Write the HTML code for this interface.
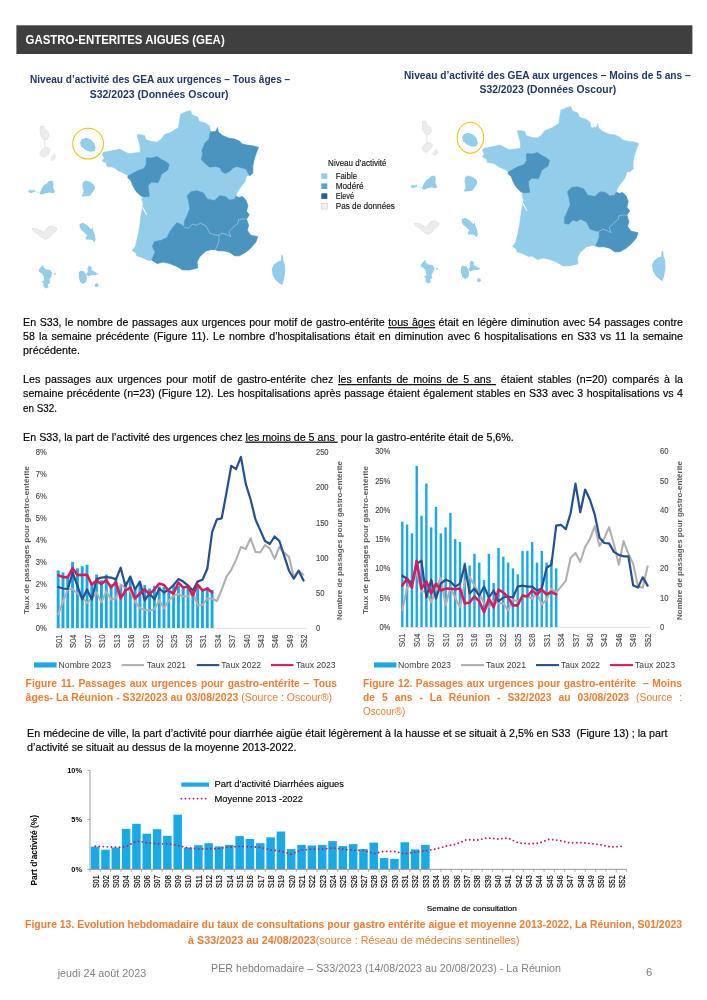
<!DOCTYPE html>
<html lang="fr">
<head>
<meta charset="utf-8">
<title>GASTRO-ENTERITES AIGUES (GEA)</title>
<style>
html,body{margin:0;padding:0;background:#fff;}
body{width:707px;height:1000px;overflow:hidden;}
svg{display:block;font-family:"Liberation Sans",sans-serif;}
</style>
</head>
<body>
<svg width="707" height="1000" viewBox="0 0 707 1000">
<rect x="0" y="0" width="707" height="1000" fill="#ffffff"/>
<rect x="16.4" y="25.3" width="676" height="28.7" fill="#3f3f3f"/>
<text x="25.50" y="44.00" font-size="13.0" fill="#ffffff" font-weight="bold" textLength="199.20" lengthAdjust="spacingAndGlyphs">GASTRO-ENTERITES AIGUES (GEA)</text>
<text x="30.00" y="83.40" font-size="10.7" fill="#1f3864" font-weight="bold" textLength="260.20" lengthAdjust="spacingAndGlyphs">Niveau d’activité des GEA aux urgences – Tous âges –</text>
<text x="89.70" y="98.20" font-size="10.7" fill="#1f3864" font-weight="bold" textLength="138.90" lengthAdjust="spacingAndGlyphs">S32/2023 (Données Oscour)</text>
<text x="404.00" y="78.70" font-size="10.7" fill="#1f3864" font-weight="bold" textLength="286.70" lengthAdjust="spacingAndGlyphs">Niveau d’activité des GEA aux urgences – Moins de 5 ans –</text>
<text x="479.60" y="93.20" font-size="10.7" fill="#1f3864" font-weight="bold" textLength="136.50" lengthAdjust="spacingAndGlyphs">S32/2023 (Données Oscour)</text>
<text transform="translate(23.10,326.20) scale(1.055,1)" font-size="10.1" fill="#000000" stroke="#000000" stroke-width="0.16" xml:space="preserve" word-spacing="0.536" textLength="625.50" lengthAdjust="spacing">En S33, le nombre de passages aux urgences pour motif de gastro-entérite <tspan text-decoration="underline">tous âges</tspan> était en légère diminution avec 54 passages contre</text>
<text transform="translate(23.10,340.30) scale(1.055,1)" font-size="10.1" fill="#000000" stroke="#000000" stroke-width="0.16" xml:space="preserve" word-spacing="1.115" textLength="625.50" lengthAdjust="spacing">58 la semaine précédente (Figure 11). Le nombre d’hospitalisations était en diminution avec 6 hospitalisations en S33 vs 11 la semaine</text>
<text transform="translate(23.10,354.30) scale(1.0685,1)" font-size="10.1" fill="#000000" stroke="#000000" stroke-width="0.16" xml:space="preserve" textLength="53.35" lengthAdjust="spacing">précédente.</text>
<text transform="translate(23.10,383.10) scale(1.055,1)" font-size="10.1" fill="#000000" stroke="#000000" stroke-width="0.16" xml:space="preserve" word-spacing="1.801" textLength="625.50" lengthAdjust="spacing">Les passages aux urgences pour motif de gastro-entérite chez <tspan text-decoration="underline">les enfants de moins de 5 ans </tspan> étaient stables (n=20) comparés à la</text>
<text transform="translate(23.10,397.20) scale(1.055,1)" font-size="10.1" fill="#000000" stroke="#000000" stroke-width="0.16" xml:space="preserve" word-spacing="0.454" textLength="625.50" lengthAdjust="spacing">semaine précédente (n=23) (Figure 12). Les hospitalisations après passage étaient également stables en S33 avec 3 hospitalisations vs 4</text>
<text transform="translate(23.10,411.50) scale(0.9736,1)" font-size="10.1" fill="#000000" stroke="#000000" stroke-width="0.16" xml:space="preserve" textLength="34.82" lengthAdjust="spacing">en S32.</text>
<text transform="translate(23.10,440.80) scale(1.0594,1)" font-size="10.1" fill="#000000" stroke="#000000" stroke-width="0.16" xml:space="preserve" textLength="463.19" lengthAdjust="spacing">En S33, la part de l’activité des urgences chez <tspan text-decoration="underline">les moins de 5 ans </tspan> pour la gastro-entérite était de 5,6%.</text>
<text transform="translate(25.60,686.80) scale(1.02,1)" font-size="10.1" fill="#ed7d31" stroke="#ed7d31" stroke-width="0.0" font-weight="bold" xml:space="preserve" word-spacing="0.928" textLength="305.29" lengthAdjust="spacing">Figure 11. Passages aux urgences pour gastro-entérite – Tous</text>
<text transform="translate(25.60,700.60) scale(1.0411,1)" font-size="10.1" fill="#ed7d31" stroke="#ed7d31" stroke-width="0.0" font-weight="bold" xml:space="preserve" textLength="294.30" lengthAdjust="spacing">âges- La Réunion - S32/2023 au 03/08/2023 <tspan font-weight="normal">(Source : Oscour®)</tspan></text>
<text transform="translate(363.00,686.80) scale(1.02,1)" font-size="10.1" fill="#ed7d31" stroke="#ed7d31" stroke-width="0.0" font-weight="bold" xml:space="preserve" word-spacing="0.635" textLength="312.75" lengthAdjust="spacing">Figure 12. Passages aux urgences pour gastro-entérite  – Moins</text>
<text transform="translate(363.00,700.60) scale(1.02,1)" font-size="10.1" fill="#ed7d31" stroke="#ed7d31" stroke-width="0.0" font-weight="bold" xml:space="preserve" word-spacing="4.037" textLength="312.75" lengthAdjust="spacing">de 5 ans - La Réunion - S32/2023 au 03/08/2023 <tspan font-weight="normal">(Source :</tspan></text>
<text transform="translate(363.00,715.00) scale(0.9779,1)" font-size="10.1" fill="#ed7d31" stroke="#ed7d31" stroke-width="0.0" xml:space="preserve" textLength="43.36" lengthAdjust="spacing">Oscour®)</text>
<text transform="translate(27.10,737.00) scale(1.0611,1)" font-size="10.1" fill="#000000" stroke="#000000" stroke-width="0.16" xml:space="preserve" textLength="603.55" lengthAdjust="spacing">En médecine de ville, la part d’activité pour diarrhée aigüe était légèrement à la hausse et se situait à 2,5% en S33  (Figure 13) ; la part</text>
<text transform="translate(27.10,751.00) scale(1.0611,1)" font-size="10.1" fill="#000000" stroke="#000000" stroke-width="0.16" xml:space="preserve" textLength="253.79" lengthAdjust="spacing">d’activité se situait au dessus de la moyenne 2013-2022.</text>
<text transform="translate(25.10,927.80) scale(1.0312,1)" font-size="10.1" fill="#ed7d31" stroke="#ed7d31" stroke-width="0.0" font-weight="bold" xml:space="preserve" textLength="637.04" lengthAdjust="spacing">Figure 13. Evolution hebdomadaire du taux de consultations pour gastro entérite aigue et moyenne 2013-2022, La Réunion, S01/2023</text>
<text transform="translate(188.00,943.60) scale(1.0676,1)" font-size="10.1" fill="#ed7d31" stroke="#ed7d31" stroke-width="0.0" font-weight="bold" xml:space="preserve" textLength="310.50" lengthAdjust="spacing">à S33/2023 au 24/08/2023<tspan font-weight="normal">(source : Réseau de médecins sentinelles)</tspan></text>
<text transform="translate(57.70,976.70) scale(1.0242,1)" font-size="10.5" fill="#7f7f7f" stroke="#7f7f7f" stroke-width="0.0" xml:space="preserve" textLength="86.41" lengthAdjust="spacing">jeudi 24 août 2023</text>
<text transform="translate(211.10,972.40) scale(1.0176,1)" font-size="10.5" fill="#7f7f7f" stroke="#7f7f7f" stroke-width="0.0" xml:space="preserve" textLength="343.85" lengthAdjust="spacing">PER hebdomadaire – S33/2023 (14/08/2023 au 20/08/2023) - La Réunion</text>
<text transform="translate(645.90,976.00) scale(1.0488,1)" font-size="10.8" fill="#7f7f7f" stroke="#7f7f7f" stroke-width="0.0" xml:space="preserve" textLength="6.01" lengthAdjust="spacing">6</text>
<g transform="translate(0,0)">
<polygon points="190.6,110.7 192.0,114.9 197.7,117.0 199.1,121.3 206.2,123.4 209.7,126.2 210.4,131.2 211.8,131.9 216.1,131.2 217.5,127.6 218.2,131.9 222.4,135.4 228.8,138.2 234.5,138.9 239.4,141.1 242.2,143.9 247.9,145.3 253.6,146.0 258.5,147.4 256.4,152.4 254.3,158.7 252.8,165.8 252.8,172.9 250.0,175.7 246.5,175.7 245.1,181.4 240.8,187.0 237.3,192.0 235.9,196.2 239.0,197.5 242.2,196.4 245.8,199.9 247.9,205.6 246.5,211.2 249.3,214.8 246.5,219.0 248.6,225.4 247.2,230.3 250.7,235.3 257.8,236.7 255.7,242.3 250.7,248.0 245.8,252.2 239.4,255.8 234.5,255.8 229.5,252.2 223.8,250.8 218.2,250.8 212.5,249.4 206.2,250.8 199.8,256.5 197.0,262.1 197.7,267.8 189.9,269.9 182.7,269.9 177.0,266.4 170.0,263.6 162.9,262.1 157.2,263.6 151.6,260.0 148.7,260.7 143.1,257.9 136.7,255.8 136.0,252.9 132.1,250.5 135.3,246.6 137.4,238.1 139.6,226.8 141.0,215.5 142.4,208.4 143.1,204.1 141.7,198.5 143.1,198.4 140.3,195.5 136.0,191.3 132.5,184.9 131.1,180.7 127.8,177.8 128.2,175.7 123.3,172.9 118.3,170.8 113.4,167.2 107.0,166.5 106.3,163.0 102.1,160.9 104.2,158.0 102.1,154.5 103.5,152.4 110.6,151.0 116.2,150.0 119.8,149.1 123.3,151.0 128.9,153.8 136.0,152.8 140.3,152.4 140.0,146.0 138.1,138.9 137.1,134.7 141.0,134.7 144.5,135.4 145.9,139.7 151.6,141.5 157.2,142.1 161.5,138.9 164.3,134.7 171.4,131.9 178.5,127.6 179.6,120.6 180.6,114.2 186.9,111.4" fill="#92cde9" stroke="#92cde9" stroke-width="0.6" stroke-linejoin="round"/>
<polygon points="281.9,254.9 282.9,255.2 283.4,260.6 284.8,264.6 285.2,272.3 284.0,279.0 282.3,285.0 279.7,283.7 275.5,279.9 272.5,274.8 271.9,268.9 273.8,264.6 278.0,261.6 281.0,260.4 281.2,256.1" fill="#92cde9"/>
<polygon points="210.4,131.2 211.8,131.9 216.1,131.2 217.5,127.6 218.2,131.9 222.4,135.4 228.8,138.2 234.5,138.9 239.4,141.1 242.2,143.9 247.9,145.3 253.6,146.0 258.5,147.4 256.4,152.4 254.3,158.7 252.8,165.8 252.8,172.9 250.0,175.7 247.9,172.9 246.5,169.4 242.2,167.9 236.6,166.5 233.0,167.9 229.5,171.5 225.3,173.6 221.7,171.5 220.3,167.9 216.1,166.5 209.7,167.2 206.2,164.4 201.2,159.5 202.6,154.5 201.9,150.3 204.8,143.2 209.0,138.9" fill="#4a94c0" stroke="#4a94c0" stroke-width="0.5" stroke-linejoin="round"/>
<polygon points="146.2,158.7 146.6,157.6 151.6,158.0 157.2,156.6 161.5,159.5 165.7,161.6 169.3,164.4 167.8,170.1 164.3,172.2 161.5,174.3 159.4,180.0 157.9,182.8 151.6,182.1 148.0,185.6 148.7,191.3 149.5,196.2 144.5,196.9 140.3,195.5 136.0,191.3 132.5,184.9 131.1,180.7 127.8,177.8 128.2,175.7 131.1,174.3 137.4,170.8 143.8,168.6 146.2,164.4" fill="#4a94c0" stroke="#4a94c0" stroke-width="0.5" stroke-linejoin="round"/>
<polygon points="187.1,195.7 191.3,191.4 197.0,190.7 203.3,192.8 207.6,199.2 214.7,200.6 219.6,195.7 225.3,196.4 229.5,199.9 234.5,199.2 235.9,196.2 239.0,197.5 242.2,196.4 245.8,199.9 247.9,205.6 246.5,211.2 249.3,214.8 246.5,219.0 242.9,219.0 238.7,219.7 238.0,223.2 233.0,227.5 228.8,231.7 230.9,236.7 228.1,235.3 222.4,233.1 218.9,235.3 215.4,235.0 209.7,233.1 206.2,226.1 200.5,223.2 196.3,225.4 192.7,223.9 188.5,228.2 184.2,227.5 184.2,221.8 187.1,215.5 189.9,208.4 188.5,201.3" fill="#4a94c0" stroke="#4a94c0" stroke-width="0.5" stroke-linejoin="round"/>
<polygon points="246.5,219.0 248.6,225.4 247.2,230.3 250.7,235.3 257.8,236.7 255.7,242.3 250.7,248.0 245.8,252.2 239.4,255.8 234.5,255.8 229.5,252.2 223.8,250.8 218.2,250.8 215.4,249.4 217.5,245.2 218.9,240.9 218.9,235.3 222.4,233.1 228.1,235.3 230.9,236.7 228.8,231.7 233.0,227.5 238.0,223.2 238.7,219.7 242.9,219.0" fill="#4a94c0" stroke="#4a94c0" stroke-width="0.5" stroke-linejoin="round"/>
<polygon points="184.2,227.5 188.5,228.2 192.7,223.9 196.3,225.4 200.5,223.2 206.2,226.1 209.7,233.1 215.4,235.0 218.9,235.3 218.9,240.9 217.5,245.2 215.4,249.4 212.5,249.4 206.2,250.8 199.8,256.5 197.0,262.1 197.7,267.8 189.9,269.9 182.7,269.9 177.0,266.4 170.0,263.6 162.9,262.1 157.2,263.6 151.6,260.0 155.1,252.2 152.3,246.6 154.4,241.6 161.5,240.2 167.1,237.4 169.3,232.4 172.8,227.5 177.0,222.5 182.7,225.4" fill="#4a94c0" stroke="#4a94c0" stroke-width="0.5" stroke-linejoin="round"/>
<polygon points="141.8,207.0 143.4,207.4 147.2,214.9 146.4,215.2" fill="#ffffff"/>
</g>
<g transform="translate(0,0)">
<polygon points="80.0,142.4 81.6,139.2 86.1,137.7 91.2,139.8 94.4,143.6 95.6,148.1 94.4,151.3 89.9,151.7 84.8,149.4 81.0,146.2" fill="#92cde9"/>
<polygon points="28.2,191.4 30.1,189.5 32.0,190.7 34.5,189.8 35.2,191.4 32.6,192.6 30.7,193.3" fill="#92cde9"/>
<polygon points="39.6,193.9 41.5,188.8 44.1,185.0 47.3,183.1 48.5,181.2 52.4,180.6 53.6,183.7 53.0,187.6 54.9,191.4 53.6,193.3 49.2,192.6 45.4,193.3 42.2,194.6" fill="#92cde9"/>
<polygon points="81.6,196.5 83.6,191.4 82.3,186.3 82.9,182.5 85.5,180.6 89.9,181.8 94.4,185.0 95.0,188.2 92.5,192.6 89.9,195.8 84.8,196.5" fill="#92cde9"/>
<polygon points="79.7,224.1 82.9,222.8 87.4,225.4 91.2,229.2 92.5,227.3 93.1,230.5 95.0,234.9 95.6,239.4 94.4,242.6 92.5,240.0 88.6,239.4 86.1,239.6 85.5,237.5 87.4,235.5 84.2,232.4 81.0,229.8 79.5,226.6" fill="#92cde9"/>
<polygon points="38.6,270.1 40.5,267.6 43.1,264.4 43.7,267.6 46.2,269.5 50.1,270.1 52.2,272.7 51.3,276.5 49.4,279.7 50.1,282.8 47.5,284.8 48.8,287.3 45.6,288.6 43.1,286.0 43.7,283.5 41.8,281.6 44.3,280.3 43.7,276.5 41.8,273.3 39.2,272.0" fill="#92cde9"/>
<polygon points="78.8,272.3 80.8,270.6 83.8,271.2 86.1,274.4 87.0,278.8 85.7,282.6 82.5,284.0 80.0,281.8 78.8,277.4" fill="#92cde9"/>
<polygon points="86.1,274.4 87.8,271.8 87.4,268.0 89.2,265.5 91.6,267.2 91.6,270.2 94.3,271.4 98.6,273.9 95.2,275.0 91.2,275.3 87.8,276.3" fill="#92cde9"/>
<circle cx="96.7" cy="285.2" r="1.9" fill="#92cde9"/>
<rect x="54.3" y="272.7" width="1.2" height="2.3" fill="#92cde9"/>
<line x1="35.2" y1="191.6" x2="39.8" y2="192.6" stroke="#c9c9c9" stroke-width="0.5"/>
<polygon points="40.3,126.5 43.5,125.8 44.1,128.4 48.5,132.8 49.2,136.0 47.3,139.2 44.1,139.8 42.2,137.9 40.3,134.1 40.0,130.3" fill="#ececec" stroke="#cfcfcf" stroke-width="0.4"/>
<polygon points="44.7,147.5 48.5,147.8 50.5,150.0 48.5,153.8 44.1,157.6 40.9,155.7 39.6,153.2 42.2,150.0" fill="#ececec" stroke="#cfcfcf" stroke-width="0.4"/>
<polygon points="50.5,158.9 53.6,154.5 55.5,155.7 54.9,158.9 52.4,160.8" fill="#ececec" stroke="#cfcfcf" stroke-width="0.4"/>
<polygon points="32.0,228.5 36.5,228.5 41.5,231.1 44.1,232.4 48.5,226.6 52.4,226.0 56.8,227.9 56.2,231.1 52.4,233.6 50.5,236.8 45.4,239.4 40.9,236.8 37.7,233.6 33.3,231.1" fill="#ececec" stroke="#cfcfcf" stroke-width="0.4"/>
<line x1="44.3" y1="139.8" x2="44.9" y2="147.5" stroke="#cfcfcf" stroke-width="0.5"/>
</g>
<circle cx="88.1" cy="143.6" r="15.4" fill="none" stroke="#f2c21b" stroke-width="1.1"/>
<polyline points="184.2,227.5 188.5,228.2 192.7,223.9 196.3,225.4 200.5,223.2 206.2,226.1 209.7,233.1 215.4,235.0 218.9,235.3" fill="none" stroke="#cfe6f3" stroke-width="0.45"/>
<polyline points="218.9,235.3 222.4,233.1 228.1,235.3 230.9,236.7 228.8,231.7 233.0,227.5 238.0,223.2 238.7,219.7 242.9,219.0 246.5,219.0" fill="none" stroke="#cfe6f3" stroke-width="0.45"/>
<polyline points="218.9,235.3 218.9,240.9 217.5,245.2 215.4,249.4" fill="none" stroke="#cfe6f3" stroke-width="0.45"/>
<g transform="translate(380.3,-4)">
<polygon points="190.6,110.7 192.0,114.9 197.7,117.0 199.1,121.3 206.2,123.4 209.7,126.2 210.4,131.2 211.8,131.9 216.1,131.2 217.5,127.6 218.2,131.9 222.4,135.4 228.8,138.2 234.5,138.9 239.4,141.1 242.2,143.9 247.9,145.3 253.6,146.0 258.5,147.4 256.4,152.4 254.3,158.7 252.8,165.8 252.8,172.9 250.0,175.7 246.5,175.7 245.1,181.4 240.8,187.0 237.3,192.0 235.9,196.2 239.0,197.5 242.2,196.4 245.8,199.9 247.9,205.6 246.5,211.2 249.3,214.8 246.5,219.0 248.6,225.4 247.2,230.3 250.7,235.3 257.8,236.7 255.7,242.3 250.7,248.0 245.8,252.2 239.4,255.8 234.5,255.8 229.5,252.2 223.8,250.8 218.2,250.8 212.5,249.4 206.2,250.8 199.8,256.5 197.0,262.1 197.7,267.8 189.9,269.9 182.7,269.9 177.0,266.4 170.0,263.6 162.9,262.1 157.2,263.6 151.6,260.0 148.7,260.7 143.1,257.9 136.7,255.8 136.0,252.9 132.1,250.5 135.3,246.6 137.4,238.1 139.6,226.8 141.0,215.5 142.4,208.4 143.1,204.1 141.7,198.5 143.1,198.4 140.3,195.5 136.0,191.3 132.5,184.9 131.1,180.7 127.8,177.8 128.2,175.7 123.3,172.9 118.3,170.8 113.4,167.2 107.0,166.5 106.3,163.0 102.1,160.9 104.2,158.0 102.1,154.5 103.5,152.4 110.6,151.0 116.2,150.0 119.8,149.1 123.3,151.0 128.9,153.8 136.0,152.8 140.3,152.4 140.0,146.0 138.1,138.9 137.1,134.7 141.0,134.7 144.5,135.4 145.9,139.7 151.6,141.5 157.2,142.1 161.5,138.9 164.3,134.7 171.4,131.9 178.5,127.6 179.6,120.6 180.6,114.2 186.9,111.4" fill="#92cde9" stroke="#92cde9" stroke-width="0.6" stroke-linejoin="round"/>
<polygon points="281.9,254.9 282.9,255.2 283.4,260.6 284.8,264.6 285.2,272.3 284.0,279.0 282.3,285.0 279.7,283.7 275.5,279.9 272.5,274.8 271.9,268.9 273.8,264.6 278.0,261.6 281.0,260.4 281.2,256.1" fill="#92cde9"/>
<polygon points="146.2,158.7 146.6,157.6 151.6,158.0 157.2,156.6 161.5,159.5 165.7,161.6 169.3,164.4 167.8,170.1 164.3,172.2 161.5,174.3 159.4,180.0 157.9,182.8 151.6,182.1 148.0,185.6 148.7,191.3 149.5,196.2 144.5,196.9 140.3,195.5 136.0,191.3 132.5,184.9 131.1,180.7 127.8,177.8 128.2,175.7 131.1,174.3 137.4,170.8 143.8,168.6 146.2,164.4" fill="#4a94c0" stroke="#4a94c0" stroke-width="0.5" stroke-linejoin="round"/>
<polygon points="187.1,195.7 191.3,191.4 197.0,190.7 203.3,192.8 207.6,199.2 214.7,200.6 219.6,195.7 225.3,196.4 229.5,199.9 234.5,199.2 235.9,196.2 239.0,197.5 242.2,196.4 245.8,199.9 247.9,205.6 246.5,211.2 249.3,214.8 246.5,219.0 242.9,219.0 238.7,219.7 238.0,223.2 233.0,227.5 228.8,231.7 230.9,236.7 228.1,235.3 222.4,233.1 218.9,235.3 215.4,235.0 209.7,233.1 206.2,226.1 200.5,223.2 196.3,225.4 192.7,223.9 188.5,228.2 184.2,227.5 184.2,221.8 187.1,215.5 189.9,208.4 188.5,201.3" fill="#4a94c0" stroke="#4a94c0" stroke-width="0.5" stroke-linejoin="round"/>
<polygon points="246.5,219.0 248.6,225.4 247.2,230.3 250.7,235.3 257.8,236.7 255.7,242.3 250.7,248.0 245.8,252.2 239.4,255.8 234.5,255.8 229.5,252.2 223.8,250.8 218.2,250.8 215.4,249.4 217.5,245.2 218.9,240.9 218.9,235.3 222.4,233.1 228.1,235.3 230.9,236.7 228.8,231.7 233.0,227.5 238.0,223.2 238.7,219.7 242.9,219.0" fill="#4a94c0" stroke="#4a94c0" stroke-width="0.5" stroke-linejoin="round"/>
<polygon points="141.8,207.0 143.4,207.4 147.2,214.9 146.4,215.2" fill="#ffffff"/>
</g>
<g transform="translate(382.2,-5.0)">
<polygon points="80.0,142.4 81.6,139.2 86.1,137.7 91.2,139.8 94.4,143.6 95.6,148.1 94.4,151.3 89.9,151.7 84.8,149.4 81.0,146.2" fill="#92cde9"/>
<polygon points="28.2,191.4 30.1,189.5 32.0,190.7 34.5,189.8 35.2,191.4 32.6,192.6 30.7,193.3" fill="#92cde9"/>
<polygon points="39.6,193.9 41.5,188.8 44.1,185.0 47.3,183.1 48.5,181.2 52.4,180.6 53.6,183.7 53.0,187.6 54.9,191.4 53.6,193.3 49.2,192.6 45.4,193.3 42.2,194.6" fill="#92cde9"/>
<polygon points="81.6,196.5 83.6,191.4 82.3,186.3 82.9,182.5 85.5,180.6 89.9,181.8 94.4,185.0 95.0,188.2 92.5,192.6 89.9,195.8 84.8,196.5" fill="#92cde9"/>
<polygon points="79.7,224.1 82.9,222.8 87.4,225.4 91.2,229.2 92.5,227.3 93.1,230.5 95.0,234.9 95.6,239.4 94.4,242.6 92.5,240.0 88.6,239.4 86.1,239.6 85.5,237.5 87.4,235.5 84.2,232.4 81.0,229.8 79.5,226.6" fill="#92cde9"/>
<polygon points="38.6,270.1 40.5,267.6 43.1,264.4 43.7,267.6 46.2,269.5 50.1,270.1 52.2,272.7 51.3,276.5 49.4,279.7 50.1,282.8 47.5,284.8 48.8,287.3 45.6,288.6 43.1,286.0 43.7,283.5 41.8,281.6 44.3,280.3 43.7,276.5 41.8,273.3 39.2,272.0" fill="#92cde9"/>
<polygon points="78.8,272.3 80.8,270.6 83.8,271.2 86.1,274.4 87.0,278.8 85.7,282.6 82.5,284.0 80.0,281.8 78.8,277.4" fill="#92cde9"/>
<polygon points="86.1,274.4 87.8,271.8 87.4,268.0 89.2,265.5 91.6,267.2 91.6,270.2 94.3,271.4 98.6,273.9 95.2,275.0 91.2,275.3 87.8,276.3" fill="#92cde9"/>
<circle cx="96.7" cy="285.2" r="1.9" fill="#92cde9"/>
<rect x="54.3" y="272.7" width="1.2" height="2.3" fill="#92cde9"/>
<line x1="35.2" y1="191.6" x2="39.8" y2="192.6" stroke="#c9c9c9" stroke-width="0.5"/>
<polygon points="40.3,126.5 43.5,125.8 44.1,128.4 48.5,132.8 49.2,136.0 47.3,139.2 44.1,139.8 42.2,137.9 40.3,134.1 40.0,130.3" fill="#ececec" stroke="#cfcfcf" stroke-width="0.4"/>
<polygon points="44.7,147.5 48.5,147.8 50.5,150.0 48.5,153.8 44.1,157.6 40.9,155.7 39.6,153.2 42.2,150.0" fill="#ececec" stroke="#cfcfcf" stroke-width="0.4"/>
<polygon points="50.5,158.9 53.6,154.5 55.5,155.7 54.9,158.9 52.4,160.8" fill="#ececec" stroke="#cfcfcf" stroke-width="0.4"/>
<polygon points="32.0,228.5 36.5,228.5 41.5,231.1 44.1,232.4 48.5,226.6 52.4,226.0 56.8,227.9 56.2,231.1 52.4,233.6 50.5,236.8 45.4,239.4 40.9,236.8 37.7,233.6 33.3,231.1" fill="#ececec" stroke="#cfcfcf" stroke-width="0.4"/>
<line x1="44.3" y1="139.8" x2="44.9" y2="147.5" stroke="#cfcfcf" stroke-width="0.5"/>
</g>
<ellipse cx="470.4" cy="137.7" rx="13.2" ry="15.5" fill="none" stroke="#f2c21b" stroke-width="1.1"/>
<polyline transform="translate(380.3,-4)" points="218.9,235.3 222.4,233.1 228.1,235.3 230.9,236.7 228.8,231.7 233.0,227.5 238.0,223.2 238.7,219.7 242.9,219.0 246.5,219.0" fill="none" stroke="#cfe6f3" stroke-width="0.45"/>
<g font-size="7.9" fill="#1a1a1a">
<text x="328.10" y="165.70" font-size="9.6" fill="#111111" textLength="58.30" lengthAdjust="spacingAndGlyphs" stroke="#111111" stroke-width="0.15">Niveau d’activité</text>
<rect x="321.3" y="173.3" width="6.0" height="5.6" fill="#92cde9"/>
<text x="335.70" y="179.20" font-size="9.6" fill="#111111" textLength="21.40" lengthAdjust="spacingAndGlyphs" stroke="#111111" stroke-width="0.15">Faible</text>
<rect x="321.3" y="183.4" width="6.0" height="5.6" fill="#5da0c8"/>
<text x="335.70" y="189.30" font-size="9.6" fill="#111111" textLength="27.80" lengthAdjust="spacingAndGlyphs" stroke="#111111" stroke-width="0.15">Modéré</text>
<rect x="321.3" y="193.3" width="6.0" height="5.6" fill="#1f5f94"/>
<text x="335.70" y="199.20" font-size="9.6" fill="#111111" textLength="18.40" lengthAdjust="spacingAndGlyphs" stroke="#111111" stroke-width="0.15">Elevé</text>
<rect x="321.3" y="203.4" width="6.0" height="5.6" fill="#f0f0f0" stroke="#c8c8c8" stroke-width="0.5"/>
<text x="335.70" y="209.30" font-size="9.6" fill="#111111" textLength="59.20" lengthAdjust="spacingAndGlyphs" stroke="#111111" stroke-width="0.15">Pas de données</text>
</g>
<line x1="55.8" y1="628.4" x2="305.9" y2="628.4" stroke="#d9d9d9" stroke-width="0.8"/>
<rect x="56.71" y="570.4" width="2.9" height="57.6" fill="#19a9e5"/>
<rect x="61.52" y="572.5" width="2.9" height="55.5" fill="#19a9e5"/>
<rect x="66.33" y="575.3" width="2.9" height="52.7" fill="#19a9e5"/>
<rect x="71.14" y="561.9" width="2.9" height="66.1" fill="#19a9e5"/>
<rect x="75.95" y="568.3" width="2.9" height="59.7" fill="#19a9e5"/>
<rect x="80.76" y="566.2" width="2.9" height="61.8" fill="#19a9e5"/>
<rect x="85.57" y="564.7" width="2.9" height="63.3" fill="#19a9e5"/>
<rect x="90.38" y="583.0" width="2.9" height="45.0" fill="#19a9e5"/>
<rect x="95.19" y="574.6" width="2.9" height="53.4" fill="#19a9e5"/>
<rect x="100.00" y="580.2" width="2.9" height="47.8" fill="#19a9e5"/>
<rect x="104.81" y="574.6" width="2.9" height="53.4" fill="#19a9e5"/>
<rect x="109.62" y="584.4" width="2.9" height="43.6" fill="#19a9e5"/>
<rect x="114.43" y="577.4" width="2.9" height="50.6" fill="#19a9e5"/>
<rect x="119.24" y="585.8" width="2.9" height="42.2" fill="#19a9e5"/>
<rect x="124.05" y="581.6" width="2.9" height="46.4" fill="#19a9e5"/>
<rect x="128.86" y="578.8" width="2.9" height="49.2" fill="#19a9e5"/>
<rect x="133.67" y="587.2" width="2.9" height="40.8" fill="#19a9e5"/>
<rect x="138.48" y="584.4" width="2.9" height="43.6" fill="#19a9e5"/>
<rect x="143.29" y="585.1" width="2.9" height="42.9" fill="#19a9e5"/>
<rect x="148.10" y="588.6" width="2.9" height="39.4" fill="#19a9e5"/>
<rect x="152.91" y="585.8" width="2.9" height="42.2" fill="#19a9e5"/>
<rect x="157.72" y="586.5" width="2.9" height="41.5" fill="#19a9e5"/>
<rect x="162.53" y="587.2" width="2.9" height="40.8" fill="#19a9e5"/>
<rect x="167.34" y="589.3" width="2.9" height="38.7" fill="#19a9e5"/>
<rect x="172.15" y="585.1" width="2.9" height="42.9" fill="#19a9e5"/>
<rect x="176.96" y="585.8" width="2.9" height="42.2" fill="#19a9e5"/>
<rect x="181.77" y="587.9" width="2.9" height="40.1" fill="#19a9e5"/>
<rect x="186.58" y="585.8" width="2.9" height="42.2" fill="#19a9e5"/>
<rect x="191.39" y="590.8" width="2.9" height="37.2" fill="#19a9e5"/>
<rect x="196.20" y="587.2" width="2.9" height="40.8" fill="#19a9e5"/>
<rect x="201.01" y="589.3" width="2.9" height="38.7" fill="#19a9e5"/>
<rect x="205.82" y="587.2" width="2.9" height="40.8" fill="#19a9e5"/>
<rect x="210.63" y="590.0" width="2.9" height="38.0" fill="#19a9e5"/>
<polyline points="58.2,614.3 63.0,601.4 67.8,589.5 72.6,589.0 77.4,593.5 82.2,597.4 87.0,602.9 91.8,598.4 96.6,592.5 101.4,602.4 106.3,591.5 111.1,599.4 115.9,598.4 120.7,584.6 125.5,587.5 130.3,591.5 135.1,601.4 139.9,608.3 144.7,609.8 149.5,610.8 154.4,609.3 159.2,600.4 164.0,608.3 168.8,600.4 173.6,595.4 178.4,594.0 183.2,596.5 188.0,596.5 192.8,591.5 197.6,605.4 202.5,605.0 207.3,598.5 212.1,598.5 216.9,601.0 221.7,589.6 226.5,576.7 231.3,569.8 236.1,559.9 240.9,547.0 245.7,549.0 250.6,538.1 255.4,551.9 260.2,552.5 265.0,545.0 269.8,548.6 274.6,558.9 279.4,547.0 284.2,552.9 289.0,556.9 293.8,576.7 298.7,570.7 303.5,574.7" fill="none" stroke="#b0b0b0" stroke-width="2.1" stroke-linejoin="round" stroke-linecap="round"/>
<polyline points="58.2,587.0 63.0,588.5 67.8,589.0 72.6,572.7 77.4,585.5 82.2,599.4 87.0,589.5 91.8,599.4 96.6,579.1 101.4,577.6 106.3,577.1 111.1,577.6 115.9,579.6 120.7,567.7 125.5,586.5 130.3,576.6 135.1,589.5 139.9,581.6 144.7,600.4 149.5,593.5 154.4,599.4 159.2,588.5 164.0,592.5 168.8,589.5 173.6,585.0 178.4,579.1 183.2,581.6 188.0,585.6 192.8,590.5 197.6,581.6 202.5,579.7 207.3,568.8 212.1,532.1 216.9,519.3 221.7,518.3 226.5,492.5 231.3,465.8 236.1,469.2 240.9,456.9 245.7,483.6 250.6,499.5 255.4,519.3 260.2,530.1 265.0,541.0 269.8,544.0 274.6,536.5 279.4,541.0 284.2,555.9 289.0,570.7 293.8,578.7 298.7,570.7 303.5,580.6" fill="none" stroke="#24508f" stroke-width="2.2" stroke-linejoin="round" stroke-linecap="round"/>
<polyline points="58.2,575.1 63.0,577.1 67.8,577.4 72.6,568.2 77.4,575.1 82.2,574.9 87.0,574.7 91.8,584.6 96.6,580.6 101.4,584.1 106.3,580.1 111.1,587.5 115.9,582.1 120.7,598.4 125.5,590.5 130.3,587.5 135.1,598.4 139.9,593.5 144.7,589.5 149.5,594.0 154.4,589.5 159.2,583.6 164.0,585.0 168.8,591.0 173.6,593.5 178.4,582.6 183.2,587.6 188.0,586.6 192.8,595.5 197.6,584.6 202.5,590.5 207.3,588.6 212.1,592.5" fill="none" stroke="#d81b60" stroke-width="2.6" stroke-linejoin="round" stroke-linecap="round"/>
<text x="35.78" y="455.30" font-size="8.2" fill="#444444" textLength="11.02" lengthAdjust="spacingAndGlyphs" stroke="#444444" stroke-width="0.12">8%</text>
<text x="35.78" y="477.26" font-size="8.2" fill="#444444" textLength="11.02" lengthAdjust="spacingAndGlyphs" stroke="#444444" stroke-width="0.12">7%</text>
<text x="35.78" y="499.23" font-size="8.2" fill="#444444" textLength="11.02" lengthAdjust="spacingAndGlyphs" stroke="#444444" stroke-width="0.12">6%</text>
<text x="35.78" y="521.19" font-size="8.2" fill="#444444" textLength="11.02" lengthAdjust="spacingAndGlyphs" stroke="#444444" stroke-width="0.12">5%</text>
<text x="35.78" y="543.15" font-size="8.2" fill="#444444" textLength="11.02" lengthAdjust="spacingAndGlyphs" stroke="#444444" stroke-width="0.12">4%</text>
<text x="35.78" y="565.11" font-size="8.2" fill="#444444" textLength="11.02" lengthAdjust="spacingAndGlyphs" stroke="#444444" stroke-width="0.12">3%</text>
<text x="35.78" y="587.08" font-size="8.2" fill="#444444" textLength="11.02" lengthAdjust="spacingAndGlyphs" stroke="#444444" stroke-width="0.12">2%</text>
<text x="35.78" y="609.04" font-size="8.2" fill="#444444" textLength="11.02" lengthAdjust="spacingAndGlyphs" stroke="#444444" stroke-width="0.12">1%</text>
<text x="35.78" y="631.00" font-size="8.2" fill="#444444" textLength="11.02" lengthAdjust="spacingAndGlyphs" stroke="#444444" stroke-width="0.12">0%</text>
<text x="315.90" y="455.30" font-size="8.2" fill="#444444" textLength="12.72" lengthAdjust="spacingAndGlyphs" stroke="#444444" stroke-width="0.12">250</text>
<text x="315.90" y="490.44" font-size="8.2" fill="#444444" textLength="12.72" lengthAdjust="spacingAndGlyphs" stroke="#444444" stroke-width="0.12">200</text>
<text x="315.90" y="525.58" font-size="8.2" fill="#444444" textLength="12.72" lengthAdjust="spacingAndGlyphs" stroke="#444444" stroke-width="0.12">150</text>
<text x="315.90" y="560.72" font-size="8.2" fill="#444444" textLength="12.72" lengthAdjust="spacingAndGlyphs" stroke="#444444" stroke-width="0.12">100</text>
<text x="315.90" y="595.86" font-size="8.2" fill="#444444" textLength="8.48" lengthAdjust="spacingAndGlyphs" stroke="#444444" stroke-width="0.12">50</text>
<text x="315.90" y="631.00" font-size="8.2" fill="#444444" textLength="4.24" lengthAdjust="spacingAndGlyphs" stroke="#444444" stroke-width="0.12">0</text>
<text transform="translate(62.0,647.9) rotate(-90)" font-size="8.8" fill="#444444" stroke="#444444" stroke-width="0.12" textLength="13.3" lengthAdjust="spacingAndGlyphs">S01</text>
<text transform="translate(76.4,647.9) rotate(-90)" font-size="8.8" fill="#444444" stroke="#444444" stroke-width="0.12" textLength="13.3" lengthAdjust="spacingAndGlyphs">S04</text>
<text transform="translate(90.8,647.9) rotate(-90)" font-size="8.8" fill="#444444" stroke="#444444" stroke-width="0.12" textLength="13.3" lengthAdjust="spacingAndGlyphs">S07</text>
<text transform="translate(105.2,647.9) rotate(-90)" font-size="8.8" fill="#444444" stroke="#444444" stroke-width="0.12" textLength="13.3" lengthAdjust="spacingAndGlyphs">S10</text>
<text transform="translate(119.7,647.9) rotate(-90)" font-size="8.8" fill="#444444" stroke="#444444" stroke-width="0.12" textLength="13.3" lengthAdjust="spacingAndGlyphs">S13</text>
<text transform="translate(134.1,647.9) rotate(-90)" font-size="8.8" fill="#444444" stroke="#444444" stroke-width="0.12" textLength="13.3" lengthAdjust="spacingAndGlyphs">S16</text>
<text transform="translate(148.5,647.9) rotate(-90)" font-size="8.8" fill="#444444" stroke="#444444" stroke-width="0.12" textLength="13.3" lengthAdjust="spacingAndGlyphs">S19</text>
<text transform="translate(163.0,647.9) rotate(-90)" font-size="8.8" fill="#444444" stroke="#444444" stroke-width="0.12" textLength="13.3" lengthAdjust="spacingAndGlyphs">S22</text>
<text transform="translate(177.4,647.9) rotate(-90)" font-size="8.8" fill="#444444" stroke="#444444" stroke-width="0.12" textLength="13.3" lengthAdjust="spacingAndGlyphs">S25</text>
<text transform="translate(191.8,647.9) rotate(-90)" font-size="8.8" fill="#444444" stroke="#444444" stroke-width="0.12" textLength="13.3" lengthAdjust="spacingAndGlyphs">S28</text>
<text transform="translate(206.3,647.9) rotate(-90)" font-size="8.8" fill="#444444" stroke="#444444" stroke-width="0.12" textLength="13.3" lengthAdjust="spacingAndGlyphs">S31</text>
<text transform="translate(220.7,647.9) rotate(-90)" font-size="8.8" fill="#444444" stroke="#444444" stroke-width="0.12" textLength="13.3" lengthAdjust="spacingAndGlyphs">S34</text>
<text transform="translate(235.1,647.9) rotate(-90)" font-size="8.8" fill="#444444" stroke="#444444" stroke-width="0.12" textLength="13.3" lengthAdjust="spacingAndGlyphs">S37</text>
<text transform="translate(249.5,647.9) rotate(-90)" font-size="8.8" fill="#444444" stroke="#444444" stroke-width="0.12" textLength="13.3" lengthAdjust="spacingAndGlyphs">S40</text>
<text transform="translate(264.0,647.9) rotate(-90)" font-size="8.8" fill="#444444" stroke="#444444" stroke-width="0.12" textLength="13.3" lengthAdjust="spacingAndGlyphs">S43</text>
<text transform="translate(278.4,647.9) rotate(-90)" font-size="8.8" fill="#444444" stroke="#444444" stroke-width="0.12" textLength="13.3" lengthAdjust="spacingAndGlyphs">S46</text>
<text transform="translate(292.8,647.9) rotate(-90)" font-size="8.8" fill="#444444" stroke="#444444" stroke-width="0.12" textLength="13.3" lengthAdjust="spacingAndGlyphs">S49</text>
<text transform="translate(307.3,647.9) rotate(-90)" font-size="8.8" fill="#444444" stroke="#444444" stroke-width="0.12" textLength="13.3" lengthAdjust="spacingAndGlyphs">S52</text>
<text transform="translate(29.0,614.0) rotate(-90) scale(1,1.0)" font-size="7.6" fill="#5c5c5c" font-weight="bold" textLength="148.0" lengthAdjust="spacingAndGlyphs">Taux de passages pour gastro-entérite</text>
<text transform="translate(342.3,620.0) rotate(-90) scale(1,1.0)" font-size="7.6" fill="#5c5c5c" font-weight="bold" textLength="159.0" lengthAdjust="spacingAndGlyphs">Nombre de passages pour gastro-entérite</text>
<rect x="34.0" y="662.4" width="22.6" height="5.1" fill="#19a9e5"/>
<text x="58.60" y="668.20" font-size="8.5" fill="#3a3a3a" textLength="52.40" lengthAdjust="spacingAndGlyphs">Nombre 2023</text>
<line x1="121.7" y1="665.1" x2="144.0" y2="665.1" stroke="#b0b0b0" stroke-width="2.1"/>
<text x="146.70" y="668.20" font-size="8.5" fill="#3a3a3a" textLength="39.30" lengthAdjust="spacingAndGlyphs">Taux 2021</text>
<line x1="196.8" y1="665.1" x2="219.3" y2="665.1" stroke="#24508f" stroke-width="2.1"/>
<text x="221.30" y="668.20" font-size="8.5" fill="#3a3a3a" textLength="39.70" lengthAdjust="spacingAndGlyphs">Taux 2022</text>
<line x1="271.0" y1="665.1" x2="293.4" y2="665.1" stroke="#d81b60" stroke-width="2.1"/>
<text x="296.00" y="668.20" font-size="8.5" fill="#3a3a3a" textLength="39.50" lengthAdjust="spacingAndGlyphs">Taux 2023</text>
<line x1="399.9" y1="627.4" x2="650.0" y2="627.4" stroke="#d9d9d9" stroke-width="0.8"/>
<rect x="401.10" y="521.6" width="2.4" height="105.4" fill="#19a9e5"/>
<rect x="405.91" y="524.5" width="2.4" height="102.5" fill="#19a9e5"/>
<rect x="410.72" y="533.3" width="2.4" height="93.7" fill="#19a9e5"/>
<rect x="415.53" y="465.9" width="2.4" height="161.1" fill="#19a9e5"/>
<rect x="420.34" y="515.7" width="2.4" height="111.3" fill="#19a9e5"/>
<rect x="425.15" y="483.5" width="2.4" height="143.5" fill="#19a9e5"/>
<rect x="429.96" y="527.4" width="2.4" height="99.6" fill="#19a9e5"/>
<rect x="434.77" y="506.9" width="2.4" height="120.1" fill="#19a9e5"/>
<rect x="439.58" y="533.3" width="2.4" height="93.7" fill="#19a9e5"/>
<rect x="444.39" y="527.4" width="2.4" height="99.6" fill="#19a9e5"/>
<rect x="449.20" y="512.8" width="2.4" height="114.2" fill="#19a9e5"/>
<rect x="454.01" y="539.1" width="2.4" height="87.9" fill="#19a9e5"/>
<rect x="458.82" y="542.1" width="2.4" height="84.9" fill="#19a9e5"/>
<rect x="463.63" y="562.6" width="2.4" height="64.4" fill="#19a9e5"/>
<rect x="468.44" y="565.5" width="2.4" height="61.5" fill="#19a9e5"/>
<rect x="473.25" y="553.8" width="2.4" height="73.2" fill="#19a9e5"/>
<rect x="478.06" y="562.6" width="2.4" height="64.4" fill="#19a9e5"/>
<rect x="482.87" y="580.1" width="2.4" height="46.9" fill="#19a9e5"/>
<rect x="487.68" y="553.8" width="2.4" height="73.2" fill="#19a9e5"/>
<rect x="492.49" y="583.1" width="2.4" height="43.9" fill="#19a9e5"/>
<rect x="497.30" y="547.9" width="2.4" height="79.1" fill="#19a9e5"/>
<rect x="502.11" y="556.7" width="2.4" height="70.3" fill="#19a9e5"/>
<rect x="506.92" y="562.6" width="2.4" height="64.4" fill="#19a9e5"/>
<rect x="511.73" y="568.4" width="2.4" height="58.6" fill="#19a9e5"/>
<rect x="516.54" y="574.3" width="2.4" height="52.7" fill="#19a9e5"/>
<rect x="521.35" y="550.9" width="2.4" height="76.1" fill="#19a9e5"/>
<rect x="526.16" y="550.9" width="2.4" height="76.1" fill="#19a9e5"/>
<rect x="530.97" y="542.1" width="2.4" height="84.9" fill="#19a9e5"/>
<rect x="535.78" y="562.6" width="2.4" height="64.4" fill="#19a9e5"/>
<rect x="540.59" y="550.9" width="2.4" height="76.1" fill="#19a9e5"/>
<rect x="545.40" y="562.6" width="2.4" height="64.4" fill="#19a9e5"/>
<rect x="550.21" y="559.6" width="2.4" height="67.4" fill="#19a9e5"/>
<rect x="555.02" y="568.4" width="2.4" height="58.6" fill="#19a9e5"/>
<polyline points="402.3,610.3 407.1,587.6 411.9,583.6 416.7,571.7 421.5,591.5 426.4,591.5 431.2,602.4 436.0,589.6 440.8,577.7 445.6,605.4 450.4,587.6 455.2,597.5 460.0,607.4 464.8,581.6 469.6,576.7 474.4,585.6 479.3,593.5 484.1,603.4 488.9,607.4 493.7,601.4 498.5,603.4 503.3,603.4 508.1,610.3 512.9,599.5 517.7,601.4 522.5,597.5 527.4,596.5 532.2,598.5 537.0,592.5 541.8,604.4 546.6,599.5 551.4,588.6 556.2,592.5 561.0,586.6 565.8,580.6 570.6,557.9 575.5,552.9 580.3,561.8 585.1,547.0 589.9,539.1 594.7,526.2 599.5,546.0 604.3,538.1 609.1,527.2 613.9,544.0 618.8,564.8 623.6,541.0 628.4,553.9 633.2,563.8 638.0,586.6 642.8,587.6 647.6,566.2" fill="none" stroke="#b0b0b0" stroke-width="2.1" stroke-linejoin="round" stroke-linecap="round"/>
<polyline points="402.3,575.7 407.1,578.7 411.9,583.6 416.7,563.8 421.5,560.8 426.4,597.5 431.2,579.7 436.0,598.5 440.8,583.6 445.6,579.7 450.4,581.6 455.2,586.6 460.0,583.6 464.8,564.8 469.6,593.5 474.4,588.6 479.3,595.5 484.1,586.6 488.9,597.5 493.7,590.5 498.5,601.4 503.3,597.5 508.1,596.5 512.9,597.5 517.7,586.6 522.5,585.6 527.4,586.6 532.2,586.6 537.0,590.5 541.8,588.6 546.6,567.8 551.4,564.8 556.2,525.6 561.0,524.8 565.8,529.2 570.6,513.3 575.5,483.6 580.3,512.3 585.1,489.6 589.9,499.5 594.7,514.3 599.5,537.7 604.3,543.0 609.1,543.4 613.9,551.9 618.8,554.9 623.6,556.3 628.4,556.3 633.2,585.6 638.0,587.6 642.8,577.3 647.6,585.6" fill="none" stroke="#24508f" stroke-width="2.2" stroke-linejoin="round" stroke-linecap="round"/>
<polyline points="402.3,585.6 407.1,578.7 411.9,587.6 416.7,560.8 421.5,588.6 426.4,581.6 431.2,593.5 436.0,583.6 440.8,590.5 445.6,588.6 450.4,588.6 455.2,589.2 460.0,588.6 464.8,603.4 469.6,602.4 474.4,596.5 479.3,601.4 484.1,612.3 488.9,598.5 493.7,607.4 498.5,589.6 503.3,592.5 508.1,597.5 512.9,605.4 517.7,605.4 522.5,595.5 527.4,596.5 532.2,590.5 537.0,594.5 541.8,589.6 546.6,594.5 551.4,591.9 556.2,594.5" fill="none" stroke="#d81b60" stroke-width="2.6" stroke-linejoin="round" stroke-linecap="round"/>
<text x="375.14" y="454.30" font-size="8.2" fill="#444444" textLength="15.26" lengthAdjust="spacingAndGlyphs" stroke="#444444" stroke-width="0.12">30%</text>
<text x="375.14" y="483.58" font-size="8.2" fill="#444444" textLength="15.26" lengthAdjust="spacingAndGlyphs" stroke="#444444" stroke-width="0.12">25%</text>
<text x="375.14" y="512.87" font-size="8.2" fill="#444444" textLength="15.26" lengthAdjust="spacingAndGlyphs" stroke="#444444" stroke-width="0.12">20%</text>
<text x="375.14" y="542.15" font-size="8.2" fill="#444444" textLength="15.26" lengthAdjust="spacingAndGlyphs" stroke="#444444" stroke-width="0.12">15%</text>
<text x="375.14" y="571.43" font-size="8.2" fill="#444444" textLength="15.26" lengthAdjust="spacingAndGlyphs" stroke="#444444" stroke-width="0.12">10%</text>
<text x="379.38" y="600.72" font-size="8.2" fill="#444444" textLength="11.02" lengthAdjust="spacingAndGlyphs" stroke="#444444" stroke-width="0.12">5%</text>
<text x="379.38" y="630.00" font-size="8.2" fill="#444444" textLength="11.02" lengthAdjust="spacingAndGlyphs" stroke="#444444" stroke-width="0.12">0%</text>
<text x="660.00" y="454.30" font-size="8.2" fill="#444444" textLength="8.48" lengthAdjust="spacingAndGlyphs" stroke="#444444" stroke-width="0.12">60</text>
<text x="660.00" y="483.58" font-size="8.2" fill="#444444" textLength="8.48" lengthAdjust="spacingAndGlyphs" stroke="#444444" stroke-width="0.12">50</text>
<text x="660.00" y="512.87" font-size="8.2" fill="#444444" textLength="8.48" lengthAdjust="spacingAndGlyphs" stroke="#444444" stroke-width="0.12">40</text>
<text x="660.00" y="542.15" font-size="8.2" fill="#444444" textLength="8.48" lengthAdjust="spacingAndGlyphs" stroke="#444444" stroke-width="0.12">30</text>
<text x="660.00" y="571.43" font-size="8.2" fill="#444444" textLength="8.48" lengthAdjust="spacingAndGlyphs" stroke="#444444" stroke-width="0.12">20</text>
<text x="660.00" y="600.72" font-size="8.2" fill="#444444" textLength="8.48" lengthAdjust="spacingAndGlyphs" stroke="#444444" stroke-width="0.12">10</text>
<text x="660.00" y="630.00" font-size="8.2" fill="#444444" textLength="4.24" lengthAdjust="spacingAndGlyphs" stroke="#444444" stroke-width="0.12">0</text>
<text transform="translate(405.3,646.9) rotate(-90)" font-size="8.8" fill="#444444" stroke="#444444" stroke-width="0.12" textLength="13.3" lengthAdjust="spacingAndGlyphs">S01</text>
<text transform="translate(419.7,646.9) rotate(-90)" font-size="8.8" fill="#444444" stroke="#444444" stroke-width="0.12" textLength="13.3" lengthAdjust="spacingAndGlyphs">S04</text>
<text transform="translate(434.2,646.9) rotate(-90)" font-size="8.8" fill="#444444" stroke="#444444" stroke-width="0.12" textLength="13.3" lengthAdjust="spacingAndGlyphs">S07</text>
<text transform="translate(448.6,646.9) rotate(-90)" font-size="8.8" fill="#444444" stroke="#444444" stroke-width="0.12" textLength="13.3" lengthAdjust="spacingAndGlyphs">S10</text>
<text transform="translate(463.0,646.9) rotate(-90)" font-size="8.8" fill="#444444" stroke="#444444" stroke-width="0.12" textLength="13.3" lengthAdjust="spacingAndGlyphs">S13</text>
<text transform="translate(477.4,646.9) rotate(-90)" font-size="8.8" fill="#444444" stroke="#444444" stroke-width="0.12" textLength="13.3" lengthAdjust="spacingAndGlyphs">S16</text>
<text transform="translate(491.9,646.9) rotate(-90)" font-size="8.8" fill="#444444" stroke="#444444" stroke-width="0.12" textLength="13.3" lengthAdjust="spacingAndGlyphs">S19</text>
<text transform="translate(506.3,646.9) rotate(-90)" font-size="8.8" fill="#444444" stroke="#444444" stroke-width="0.12" textLength="13.3" lengthAdjust="spacingAndGlyphs">S22</text>
<text transform="translate(520.7,646.9) rotate(-90)" font-size="8.8" fill="#444444" stroke="#444444" stroke-width="0.12" textLength="13.3" lengthAdjust="spacingAndGlyphs">S25</text>
<text transform="translate(535.2,646.9) rotate(-90)" font-size="8.8" fill="#444444" stroke="#444444" stroke-width="0.12" textLength="13.3" lengthAdjust="spacingAndGlyphs">S28</text>
<text transform="translate(549.6,646.9) rotate(-90)" font-size="8.8" fill="#444444" stroke="#444444" stroke-width="0.12" textLength="13.3" lengthAdjust="spacingAndGlyphs">S31</text>
<text transform="translate(564.0,646.9) rotate(-90)" font-size="8.8" fill="#444444" stroke="#444444" stroke-width="0.12" textLength="13.3" lengthAdjust="spacingAndGlyphs">S34</text>
<text transform="translate(578.5,646.9) rotate(-90)" font-size="8.8" fill="#444444" stroke="#444444" stroke-width="0.12" textLength="13.3" lengthAdjust="spacingAndGlyphs">S37</text>
<text transform="translate(592.9,646.9) rotate(-90)" font-size="8.8" fill="#444444" stroke="#444444" stroke-width="0.12" textLength="13.3" lengthAdjust="spacingAndGlyphs">S40</text>
<text transform="translate(607.3,646.9) rotate(-90)" font-size="8.8" fill="#444444" stroke="#444444" stroke-width="0.12" textLength="13.3" lengthAdjust="spacingAndGlyphs">S43</text>
<text transform="translate(621.8,646.9) rotate(-90)" font-size="8.8" fill="#444444" stroke="#444444" stroke-width="0.12" textLength="13.3" lengthAdjust="spacingAndGlyphs">S46</text>
<text transform="translate(636.2,646.9) rotate(-90)" font-size="8.8" fill="#444444" stroke="#444444" stroke-width="0.12" textLength="13.3" lengthAdjust="spacingAndGlyphs">S49</text>
<text transform="translate(650.6,646.9) rotate(-90)" font-size="8.8" fill="#444444" stroke="#444444" stroke-width="0.12" textLength="13.3" lengthAdjust="spacingAndGlyphs">S52</text>
<text transform="translate(368.0,614.0) rotate(-90) scale(1,1.0)" font-size="7.6" fill="#5c5c5c" font-weight="bold" textLength="148.0" lengthAdjust="spacingAndGlyphs">Taux de passages pour gastro-entérite</text>
<text transform="translate(682.3,620.0) rotate(-90) scale(1,1.0)" font-size="7.6" fill="#5c5c5c" font-weight="bold" textLength="159.0" lengthAdjust="spacingAndGlyphs">Nombre de passages pour gastro-entérite</text>
<rect x="374.0" y="662.4" width="22.399999999999977" height="5.1" fill="#19a9e5"/>
<text x="398.00" y="668.20" font-size="8.5" fill="#3a3a3a" textLength="53.00" lengthAdjust="spacingAndGlyphs">Nombre 2023</text>
<line x1="461.0" y1="665.1" x2="484.0" y2="665.1" stroke="#b0b0b0" stroke-width="2.1"/>
<text x="486.00" y="668.20" font-size="8.5" fill="#3a3a3a" textLength="40.00" lengthAdjust="spacingAndGlyphs">Taux 2021</text>
<line x1="536.0" y1="665.1" x2="559.0" y2="665.1" stroke="#24508f" stroke-width="2.1"/>
<text x="561.00" y="668.20" font-size="8.5" fill="#3a3a3a" textLength="39.00" lengthAdjust="spacingAndGlyphs">Taux 2022</text>
<line x1="610.0" y1="665.1" x2="633.0" y2="665.1" stroke="#d81b60" stroke-width="2.1"/>
<text x="635.00" y="668.20" font-size="8.5" fill="#3a3a3a" textLength="40.00" lengthAdjust="spacingAndGlyphs">Taux 2023</text>
<rect x="90.90" y="846.7" width="8.5" height="22.3" fill="#19a9e5"/>
<rect x="101.22" y="849.7" width="8.5" height="19.3" fill="#19a9e5"/>
<rect x="111.54" y="847.6" width="8.5" height="21.4" fill="#19a9e5"/>
<rect x="121.86" y="828.9" width="8.5" height="40.1" fill="#19a9e5"/>
<rect x="132.18" y="823.8" width="8.5" height="45.2" fill="#19a9e5"/>
<rect x="142.50" y="833.7" width="8.5" height="35.3" fill="#19a9e5"/>
<rect x="152.82" y="829.2" width="8.5" height="39.8" fill="#19a9e5"/>
<rect x="163.14" y="835.8" width="8.5" height="33.2" fill="#19a9e5"/>
<rect x="173.46" y="814.7" width="8.5" height="54.3" fill="#19a9e5"/>
<rect x="183.78" y="847.6" width="8.5" height="21.4" fill="#19a9e5"/>
<rect x="194.10" y="845.2" width="8.5" height="23.8" fill="#19a9e5"/>
<rect x="204.42" y="843.2" width="8.5" height="25.8" fill="#19a9e5"/>
<rect x="214.74" y="846.4" width="8.5" height="22.6" fill="#19a9e5"/>
<rect x="225.06" y="844.9" width="8.5" height="24.1" fill="#19a9e5"/>
<rect x="235.38" y="836.1" width="8.5" height="32.9" fill="#19a9e5"/>
<rect x="245.70" y="839.0" width="8.5" height="30.0" fill="#19a9e5"/>
<rect x="256.02" y="843.2" width="8.5" height="25.8" fill="#19a9e5"/>
<rect x="266.34" y="837.3" width="8.5" height="31.7" fill="#19a9e5"/>
<rect x="276.66" y="831.5" width="8.5" height="37.5" fill="#19a9e5"/>
<rect x="286.98" y="849.1" width="8.5" height="19.9" fill="#19a9e5"/>
<rect x="297.30" y="844.9" width="8.5" height="24.1" fill="#19a9e5"/>
<rect x="307.62" y="845.5" width="8.5" height="23.5" fill="#19a9e5"/>
<rect x="317.94" y="844.9" width="8.5" height="24.1" fill="#19a9e5"/>
<rect x="328.26" y="841.1" width="8.5" height="27.9" fill="#19a9e5"/>
<rect x="338.58" y="846.1" width="8.5" height="22.9" fill="#19a9e5"/>
<rect x="348.90" y="844.1" width="8.5" height="24.9" fill="#19a9e5"/>
<rect x="359.22" y="849.1" width="8.5" height="19.9" fill="#19a9e5"/>
<rect x="369.54" y="842.6" width="8.5" height="26.4" fill="#19a9e5"/>
<rect x="379.86" y="858.1" width="8.5" height="10.9" fill="#19a9e5"/>
<rect x="390.18" y="858.9" width="8.5" height="10.1" fill="#19a9e5"/>
<rect x="400.50" y="842.3" width="8.5" height="26.7" fill="#19a9e5"/>
<rect x="410.82" y="849.4" width="8.5" height="19.6" fill="#19a9e5"/>
<rect x="421.14" y="844.9" width="8.5" height="24.1" fill="#19a9e5"/>
<polyline points="95.2,846.1 105.5,846.7 115.8,847.3 126.1,846.7 136.4,841.1 146.8,842.6 157.1,843.8 167.4,843.8 177.7,845.5 188.0,847.9 198.4,849.1 208.7,848.8 219.0,848.5 229.3,847.0 239.6,846.4 250.0,846.7 260.3,847.3 270.6,850.0 280.9,851.2 291.2,854.2 301.6,850.0 311.9,849.1 322.2,849.1 332.5,847.9 342.8,849.1 353.2,850.3 363.5,850.3 373.8,853.5 384.1,851.4 394.4,851.4 404.8,853.8 415.1,852.0 425.4,850.9 435.7,849.1 446.0,846.1 456.4,844.1 466.7,839.6 477.0,840.2 487.3,837.8 497.6,839.0 508.0,838.1 518.3,842.9 528.6,843.8 538.9,843.2 549.2,839.3 559.6,840.5 569.9,842.9 580.2,842.6 590.5,843.5 600.8,844.9 611.2,847.0 621.5,846.4" fill="none" stroke="#cc1166" stroke-width="1.85" stroke-dasharray="0.01,4.05" stroke-linecap="round"/>
<line x1="90.0" y1="770.4" x2="90.0" y2="869.5" stroke="#808080" stroke-width="0.8"/>
<line x1="87.5" y1="869.4" x2="626.6" y2="869.4" stroke="#808080" stroke-width="0.8"/>
<line x1="90.0" y1="869.4" x2="90.0" y2="872.0" stroke="#808080" stroke-width="0.6"/>
<line x1="100.3" y1="869.4" x2="100.3" y2="872.0" stroke="#808080" stroke-width="0.6"/>
<line x1="110.6" y1="869.4" x2="110.6" y2="872.0" stroke="#808080" stroke-width="0.6"/>
<line x1="121.0" y1="869.4" x2="121.0" y2="872.0" stroke="#808080" stroke-width="0.6"/>
<line x1="131.3" y1="869.4" x2="131.3" y2="872.0" stroke="#808080" stroke-width="0.6"/>
<line x1="141.6" y1="869.4" x2="141.6" y2="872.0" stroke="#808080" stroke-width="0.6"/>
<line x1="151.9" y1="869.4" x2="151.9" y2="872.0" stroke="#808080" stroke-width="0.6"/>
<line x1="162.2" y1="869.4" x2="162.2" y2="872.0" stroke="#808080" stroke-width="0.6"/>
<line x1="172.6" y1="869.4" x2="172.6" y2="872.0" stroke="#808080" stroke-width="0.6"/>
<line x1="182.9" y1="869.4" x2="182.9" y2="872.0" stroke="#808080" stroke-width="0.6"/>
<line x1="193.2" y1="869.4" x2="193.2" y2="872.0" stroke="#808080" stroke-width="0.6"/>
<line x1="203.5" y1="869.4" x2="203.5" y2="872.0" stroke="#808080" stroke-width="0.6"/>
<line x1="213.8" y1="869.4" x2="213.8" y2="872.0" stroke="#808080" stroke-width="0.6"/>
<line x1="224.2" y1="869.4" x2="224.2" y2="872.0" stroke="#808080" stroke-width="0.6"/>
<line x1="234.5" y1="869.4" x2="234.5" y2="872.0" stroke="#808080" stroke-width="0.6"/>
<line x1="244.8" y1="869.4" x2="244.8" y2="872.0" stroke="#808080" stroke-width="0.6"/>
<line x1="255.1" y1="869.4" x2="255.1" y2="872.0" stroke="#808080" stroke-width="0.6"/>
<line x1="265.4" y1="869.4" x2="265.4" y2="872.0" stroke="#808080" stroke-width="0.6"/>
<line x1="275.8" y1="869.4" x2="275.8" y2="872.0" stroke="#808080" stroke-width="0.6"/>
<line x1="286.1" y1="869.4" x2="286.1" y2="872.0" stroke="#808080" stroke-width="0.6"/>
<line x1="296.4" y1="869.4" x2="296.4" y2="872.0" stroke="#808080" stroke-width="0.6"/>
<line x1="306.7" y1="869.4" x2="306.7" y2="872.0" stroke="#808080" stroke-width="0.6"/>
<line x1="317.0" y1="869.4" x2="317.0" y2="872.0" stroke="#808080" stroke-width="0.6"/>
<line x1="327.4" y1="869.4" x2="327.4" y2="872.0" stroke="#808080" stroke-width="0.6"/>
<line x1="337.7" y1="869.4" x2="337.7" y2="872.0" stroke="#808080" stroke-width="0.6"/>
<line x1="348.0" y1="869.4" x2="348.0" y2="872.0" stroke="#808080" stroke-width="0.6"/>
<line x1="358.3" y1="869.4" x2="358.3" y2="872.0" stroke="#808080" stroke-width="0.6"/>
<line x1="368.6" y1="869.4" x2="368.6" y2="872.0" stroke="#808080" stroke-width="0.6"/>
<line x1="379.0" y1="869.4" x2="379.0" y2="872.0" stroke="#808080" stroke-width="0.6"/>
<line x1="389.3" y1="869.4" x2="389.3" y2="872.0" stroke="#808080" stroke-width="0.6"/>
<line x1="399.6" y1="869.4" x2="399.6" y2="872.0" stroke="#808080" stroke-width="0.6"/>
<line x1="409.9" y1="869.4" x2="409.9" y2="872.0" stroke="#808080" stroke-width="0.6"/>
<line x1="420.2" y1="869.4" x2="420.2" y2="872.0" stroke="#808080" stroke-width="0.6"/>
<line x1="430.6" y1="869.4" x2="430.6" y2="872.0" stroke="#808080" stroke-width="0.6"/>
<line x1="440.9" y1="869.4" x2="440.9" y2="872.0" stroke="#808080" stroke-width="0.6"/>
<line x1="451.2" y1="869.4" x2="451.2" y2="872.0" stroke="#808080" stroke-width="0.6"/>
<line x1="461.5" y1="869.4" x2="461.5" y2="872.0" stroke="#808080" stroke-width="0.6"/>
<line x1="471.8" y1="869.4" x2="471.8" y2="872.0" stroke="#808080" stroke-width="0.6"/>
<line x1="482.2" y1="869.4" x2="482.2" y2="872.0" stroke="#808080" stroke-width="0.6"/>
<line x1="492.5" y1="869.4" x2="492.5" y2="872.0" stroke="#808080" stroke-width="0.6"/>
<line x1="502.8" y1="869.4" x2="502.8" y2="872.0" stroke="#808080" stroke-width="0.6"/>
<line x1="513.1" y1="869.4" x2="513.1" y2="872.0" stroke="#808080" stroke-width="0.6"/>
<line x1="523.4" y1="869.4" x2="523.4" y2="872.0" stroke="#808080" stroke-width="0.6"/>
<line x1="533.8" y1="869.4" x2="533.8" y2="872.0" stroke="#808080" stroke-width="0.6"/>
<line x1="544.1" y1="869.4" x2="544.1" y2="872.0" stroke="#808080" stroke-width="0.6"/>
<line x1="554.4" y1="869.4" x2="554.4" y2="872.0" stroke="#808080" stroke-width="0.6"/>
<line x1="564.7" y1="869.4" x2="564.7" y2="872.0" stroke="#808080" stroke-width="0.6"/>
<line x1="575.0" y1="869.4" x2="575.0" y2="872.0" stroke="#808080" stroke-width="0.6"/>
<line x1="585.4" y1="869.4" x2="585.4" y2="872.0" stroke="#808080" stroke-width="0.6"/>
<line x1="595.7" y1="869.4" x2="595.7" y2="872.0" stroke="#808080" stroke-width="0.6"/>
<line x1="606.0" y1="869.4" x2="606.0" y2="872.0" stroke="#808080" stroke-width="0.6"/>
<line x1="616.3" y1="869.4" x2="616.3" y2="872.0" stroke="#808080" stroke-width="0.6"/>
<line x1="626.6" y1="869.4" x2="626.6" y2="872.0" stroke="#808080" stroke-width="0.6"/>
<line x1="87.5" y1="770.4" x2="90.0" y2="770.4" stroke="#808080" stroke-width="0.7"/>
<line x1="87.5" y1="819.6" x2="90.0" y2="819.6" stroke="#808080" stroke-width="0.7"/>
<text x="67.25" y="773.00" font-size="7.2" fill="#000000" font-weight="bold" textLength="14.75" lengthAdjust="spacingAndGlyphs">10%</text>
<text x="71.35" y="822.30" font-size="7.2" fill="#000000" font-weight="bold" textLength="10.65" lengthAdjust="spacingAndGlyphs">5%</text>
<text x="71.35" y="871.60" font-size="7.2" fill="#000000" font-weight="bold" textLength="10.65" lengthAdjust="spacingAndGlyphs">0%</text>
<text transform="translate(98.5,888.0) rotate(-90)" font-size="9" fill="#000000" stroke="#000000" stroke-width="0.15" textLength="12.9" lengthAdjust="spacingAndGlyphs">S01</text>
<text transform="translate(108.8,888.0) rotate(-90)" font-size="9" fill="#000000" stroke="#000000" stroke-width="0.15" textLength="12.9" lengthAdjust="spacingAndGlyphs">S02</text>
<text transform="translate(119.1,888.0) rotate(-90)" font-size="9" fill="#000000" stroke="#000000" stroke-width="0.15" textLength="12.9" lengthAdjust="spacingAndGlyphs">S03</text>
<text transform="translate(129.4,888.0) rotate(-90)" font-size="9" fill="#000000" stroke="#000000" stroke-width="0.15" textLength="12.9" lengthAdjust="spacingAndGlyphs">S04</text>
<text transform="translate(139.7,888.0) rotate(-90)" font-size="9" fill="#000000" stroke="#000000" stroke-width="0.15" textLength="12.9" lengthAdjust="spacingAndGlyphs">S05</text>
<text transform="translate(150.1,888.0) rotate(-90)" font-size="9" fill="#000000" stroke="#000000" stroke-width="0.15" textLength="12.9" lengthAdjust="spacingAndGlyphs">S06</text>
<text transform="translate(160.4,888.0) rotate(-90)" font-size="9" fill="#000000" stroke="#000000" stroke-width="0.15" textLength="12.9" lengthAdjust="spacingAndGlyphs">S07</text>
<text transform="translate(170.7,888.0) rotate(-90)" font-size="9" fill="#000000" stroke="#000000" stroke-width="0.15" textLength="12.9" lengthAdjust="spacingAndGlyphs">S08</text>
<text transform="translate(181.0,888.0) rotate(-90)" font-size="9" fill="#000000" stroke="#000000" stroke-width="0.15" textLength="12.9" lengthAdjust="spacingAndGlyphs">S09</text>
<text transform="translate(191.3,888.0) rotate(-90)" font-size="9" fill="#000000" stroke="#000000" stroke-width="0.15" textLength="12.9" lengthAdjust="spacingAndGlyphs">S10</text>
<text transform="translate(201.7,888.0) rotate(-90)" font-size="9" fill="#000000" stroke="#000000" stroke-width="0.15" textLength="12.9" lengthAdjust="spacingAndGlyphs">S11</text>
<text transform="translate(212.0,888.0) rotate(-90)" font-size="9" fill="#000000" stroke="#000000" stroke-width="0.15" textLength="12.9" lengthAdjust="spacingAndGlyphs">S12</text>
<text transform="translate(222.3,888.0) rotate(-90)" font-size="9" fill="#000000" stroke="#000000" stroke-width="0.15" textLength="12.9" lengthAdjust="spacingAndGlyphs">S13</text>
<text transform="translate(232.6,888.0) rotate(-90)" font-size="9" fill="#000000" stroke="#000000" stroke-width="0.15" textLength="12.9" lengthAdjust="spacingAndGlyphs">S14</text>
<text transform="translate(242.9,888.0) rotate(-90)" font-size="9" fill="#000000" stroke="#000000" stroke-width="0.15" textLength="12.9" lengthAdjust="spacingAndGlyphs">S15</text>
<text transform="translate(253.3,888.0) rotate(-90)" font-size="9" fill="#000000" stroke="#000000" stroke-width="0.15" textLength="12.9" lengthAdjust="spacingAndGlyphs">S16</text>
<text transform="translate(263.6,888.0) rotate(-90)" font-size="9" fill="#000000" stroke="#000000" stroke-width="0.15" textLength="12.9" lengthAdjust="spacingAndGlyphs">S17</text>
<text transform="translate(273.9,888.0) rotate(-90)" font-size="9" fill="#000000" stroke="#000000" stroke-width="0.15" textLength="12.9" lengthAdjust="spacingAndGlyphs">S18</text>
<text transform="translate(284.2,888.0) rotate(-90)" font-size="9" fill="#000000" stroke="#000000" stroke-width="0.15" textLength="12.9" lengthAdjust="spacingAndGlyphs">S19</text>
<text transform="translate(294.5,888.0) rotate(-90)" font-size="9" fill="#000000" stroke="#000000" stroke-width="0.15" textLength="12.9" lengthAdjust="spacingAndGlyphs">S20</text>
<text transform="translate(304.9,888.0) rotate(-90)" font-size="9" fill="#000000" stroke="#000000" stroke-width="0.15" textLength="12.9" lengthAdjust="spacingAndGlyphs">S21</text>
<text transform="translate(315.2,888.0) rotate(-90)" font-size="9" fill="#000000" stroke="#000000" stroke-width="0.15" textLength="12.9" lengthAdjust="spacingAndGlyphs">S22</text>
<text transform="translate(325.5,888.0) rotate(-90)" font-size="9" fill="#000000" stroke="#000000" stroke-width="0.15" textLength="12.9" lengthAdjust="spacingAndGlyphs">S23</text>
<text transform="translate(335.8,888.0) rotate(-90)" font-size="9" fill="#000000" stroke="#000000" stroke-width="0.15" textLength="12.9" lengthAdjust="spacingAndGlyphs">S24</text>
<text transform="translate(346.1,888.0) rotate(-90)" font-size="9" fill="#000000" stroke="#000000" stroke-width="0.15" textLength="12.9" lengthAdjust="spacingAndGlyphs">S25</text>
<text transform="translate(356.5,888.0) rotate(-90)" font-size="9" fill="#000000" stroke="#000000" stroke-width="0.15" textLength="12.9" lengthAdjust="spacingAndGlyphs">S26</text>
<text transform="translate(366.8,888.0) rotate(-90)" font-size="9" fill="#000000" stroke="#000000" stroke-width="0.15" textLength="12.9" lengthAdjust="spacingAndGlyphs">S27</text>
<text transform="translate(377.1,888.0) rotate(-90)" font-size="9" fill="#000000" stroke="#000000" stroke-width="0.15" textLength="12.9" lengthAdjust="spacingAndGlyphs">S28</text>
<text transform="translate(387.4,888.0) rotate(-90)" font-size="9" fill="#000000" stroke="#000000" stroke-width="0.15" textLength="12.9" lengthAdjust="spacingAndGlyphs">S29</text>
<text transform="translate(397.7,888.0) rotate(-90)" font-size="9" fill="#000000" stroke="#000000" stroke-width="0.15" textLength="12.9" lengthAdjust="spacingAndGlyphs">S30</text>
<text transform="translate(408.1,888.0) rotate(-90)" font-size="9" fill="#000000" stroke="#000000" stroke-width="0.15" textLength="12.9" lengthAdjust="spacingAndGlyphs">S31</text>
<text transform="translate(418.4,888.0) rotate(-90)" font-size="9" fill="#000000" stroke="#000000" stroke-width="0.15" textLength="12.9" lengthAdjust="spacingAndGlyphs">S32</text>
<text transform="translate(428.7,888.0) rotate(-90)" font-size="9" fill="#000000" stroke="#000000" stroke-width="0.15" textLength="12.9" lengthAdjust="spacingAndGlyphs">S33</text>
<text transform="translate(439.0,888.0) rotate(-90)" font-size="9" fill="#000000" stroke="#000000" stroke-width="0.15" textLength="12.9" lengthAdjust="spacingAndGlyphs">S34</text>
<text transform="translate(449.3,888.0) rotate(-90)" font-size="9" fill="#000000" stroke="#000000" stroke-width="0.15" textLength="12.9" lengthAdjust="spacingAndGlyphs">S35</text>
<text transform="translate(459.7,888.0) rotate(-90)" font-size="9" fill="#000000" stroke="#000000" stroke-width="0.15" textLength="12.9" lengthAdjust="spacingAndGlyphs">S36</text>
<text transform="translate(470.0,888.0) rotate(-90)" font-size="9" fill="#000000" stroke="#000000" stroke-width="0.15" textLength="12.9" lengthAdjust="spacingAndGlyphs">S37</text>
<text transform="translate(480.3,888.0) rotate(-90)" font-size="9" fill="#000000" stroke="#000000" stroke-width="0.15" textLength="12.9" lengthAdjust="spacingAndGlyphs">S38</text>
<text transform="translate(490.6,888.0) rotate(-90)" font-size="9" fill="#000000" stroke="#000000" stroke-width="0.15" textLength="12.9" lengthAdjust="spacingAndGlyphs">S39</text>
<text transform="translate(500.9,888.0) rotate(-90)" font-size="9" fill="#000000" stroke="#000000" stroke-width="0.15" textLength="12.9" lengthAdjust="spacingAndGlyphs">S40</text>
<text transform="translate(511.3,888.0) rotate(-90)" font-size="9" fill="#000000" stroke="#000000" stroke-width="0.15" textLength="12.9" lengthAdjust="spacingAndGlyphs">S41</text>
<text transform="translate(521.6,888.0) rotate(-90)" font-size="9" fill="#000000" stroke="#000000" stroke-width="0.15" textLength="12.9" lengthAdjust="spacingAndGlyphs">S42</text>
<text transform="translate(531.9,888.0) rotate(-90)" font-size="9" fill="#000000" stroke="#000000" stroke-width="0.15" textLength="12.9" lengthAdjust="spacingAndGlyphs">S43</text>
<text transform="translate(542.2,888.0) rotate(-90)" font-size="9" fill="#000000" stroke="#000000" stroke-width="0.15" textLength="12.9" lengthAdjust="spacingAndGlyphs">S44</text>
<text transform="translate(552.5,888.0) rotate(-90)" font-size="9" fill="#000000" stroke="#000000" stroke-width="0.15" textLength="12.9" lengthAdjust="spacingAndGlyphs">S45</text>
<text transform="translate(562.9,888.0) rotate(-90)" font-size="9" fill="#000000" stroke="#000000" stroke-width="0.15" textLength="12.9" lengthAdjust="spacingAndGlyphs">S46</text>
<text transform="translate(573.2,888.0) rotate(-90)" font-size="9" fill="#000000" stroke="#000000" stroke-width="0.15" textLength="12.9" lengthAdjust="spacingAndGlyphs">S47</text>
<text transform="translate(583.5,888.0) rotate(-90)" font-size="9" fill="#000000" stroke="#000000" stroke-width="0.15" textLength="12.9" lengthAdjust="spacingAndGlyphs">S48</text>
<text transform="translate(593.8,888.0) rotate(-90)" font-size="9" fill="#000000" stroke="#000000" stroke-width="0.15" textLength="12.9" lengthAdjust="spacingAndGlyphs">S49</text>
<text transform="translate(604.1,888.0) rotate(-90)" font-size="9" fill="#000000" stroke="#000000" stroke-width="0.15" textLength="12.9" lengthAdjust="spacingAndGlyphs">S50</text>
<text transform="translate(614.5,888.0) rotate(-90)" font-size="9" fill="#000000" stroke="#000000" stroke-width="0.15" textLength="12.9" lengthAdjust="spacingAndGlyphs">S51</text>
<text transform="translate(624.8,888.0) rotate(-90)" font-size="9" fill="#000000" stroke="#000000" stroke-width="0.15" textLength="12.9" lengthAdjust="spacingAndGlyphs">S52</text>
<text transform="translate(36.9,885.5) rotate(-90) scale(1,1.22)" font-size="7.8" fill="#000000" font-weight="bold" textLength="70.5" lengthAdjust="spacingAndGlyphs">Part d’activité (%)</text>
<text x="426.80" y="911.40" font-size="7.3" fill="#000000" textLength="90.10" lengthAdjust="spacingAndGlyphs" stroke="#000" stroke-width="0.15">Semaine de consultation</text>
<rect x="181.3" y="782.5" width="27.9" height="4.2" fill="#19a9e5"/>
<line x1="181.3" y1="798.6" x2="209.2" y2="798.6" stroke="#cc1166" stroke-width="1.85" stroke-dasharray="0.01,4.05" stroke-linecap="round"/>
<text x="214.50" y="787.40" font-size="9.0" fill="#000000" textLength="129.50" lengthAdjust="spacingAndGlyphs" stroke="#000" stroke-width="0.12">Part d’activité Diarrhées aigues</text>
<text x="214.50" y="801.70" font-size="9.0" fill="#000000" textLength="88.50" lengthAdjust="spacingAndGlyphs" stroke="#000" stroke-width="0.12">Moyenne 2013 -2022</text>
</svg>
</body>
</html>
